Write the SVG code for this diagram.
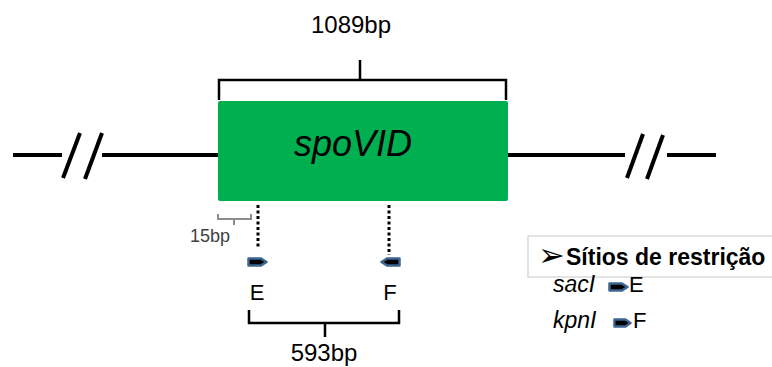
<svg xmlns="http://www.w3.org/2000/svg" width="772" height="367" viewBox="0 0 772 367">
<defs>
<style>
.ln{stroke:#000;stroke-width:4;fill:none}
.br{stroke:#000;stroke-width:2.5;fill:none}
.gbr{stroke:#8c8c8c;stroke-width:2;fill:none}
.dot{stroke:#000;stroke-width:3;stroke-dasharray:3 2.5;fill:none}
.t{font-family:"Liberation Sans",Arial,sans-serif;fill:#000}
.mk{fill:#000;stroke:#3d6691;stroke-width:2.5;stroke-linejoin:round}
</style>
<path id="marker" class="mk" d="M1.5,1.5 H14 L19.5,5 L14,8.5 H1.5 Z"/>
</defs>
<rect width="772" height="367" fill="#fff"/>
<g id="connectors">
<line class="ln" x1="13" y1="155" x2="62" y2="155"/>
<line class="ln" x1="63" y1="178" x2="80" y2="133"/>
<line class="ln" x1="85" y1="179" x2="102" y2="133"/>
<line class="ln" x1="102" y1="155" x2="219" y2="155"/>
<line class="ln" x1="507" y1="155" x2="625" y2="155"/>
<line class="ln" x1="627" y1="178" x2="643" y2="134"/>
<line class="ln" x1="647" y1="179" x2="663" y2="135"/>
<line class="ln" x1="667" y1="155" x2="716" y2="155"/>
<path class="br" d="M219,100 V80 H506 V100 M360,80 V60"/>
<path class="gbr" d="M218,214 V219 H251 V214 M234,219 V225"/>
<line class="dot" x1="258" y1="205" x2="258" y2="249"/>
<line class="dot" x1="389" y1="205" x2="389" y2="255"/>
<path class="br" d="M249,310 V323 H399 V310 M325,323 V337"/>
</g>
<g id="gene">
<rect x="218" y="101" width="290" height="100" rx="2" fill="#00b050"/>
<text class="t" x="353" y="156" font-size="36" font-style="italic" text-anchor="middle">spoVID</text>
</g>
<g id="label-1089">
<text class="t" x="351" y="33" font-size="24" text-anchor="middle">1089bp</text>
</g>
<g id="label-15">
<text class="t" x="210" y="242" font-size="18" text-anchor="middle" style="fill:#404040">15bp</text>
</g>
<g id="primer-E">
<use href="#marker" x="247" y="257"/>
<text class="t" x="257" y="300" font-size="22" text-anchor="middle">E</text>
</g>
<g id="primer-F">
<use href="#marker" transform="translate(401,257) scale(-1,1)"/>
<text class="t" x="390" y="300" font-size="22" text-anchor="middle">F</text>
</g>
<g id="label-593">
<text class="t" x="324" y="361" font-size="24" text-anchor="middle">593bp</text>
</g>
<g id="legend">
<rect x="528" y="236" width="250" height="41" fill="#fff" stroke="#d0d0d0" stroke-width="1.2"/>
<text class="t" x="538" y="266" font-size="32" font-family="DejaVu Sans, sans-serif">➢</text>
<text class="t" x="566" y="265" font-size="23" font-weight="bold">Sítios de restrição</text>
<text class="t" x="553" y="292" font-size="23" font-style="italic">sacI</text>
<use href="#marker" x="608" y="282"/>
<text class="t" x="629" y="292" font-size="22">E</text>
<text class="t" x="553" y="328" font-size="23" font-style="italic">kpnI</text>
<use href="#marker" transform="translate(613,318) scale(0.9,1)"/>
<text class="t" x="633" y="328" font-size="22">F</text>
</g>
</svg>
